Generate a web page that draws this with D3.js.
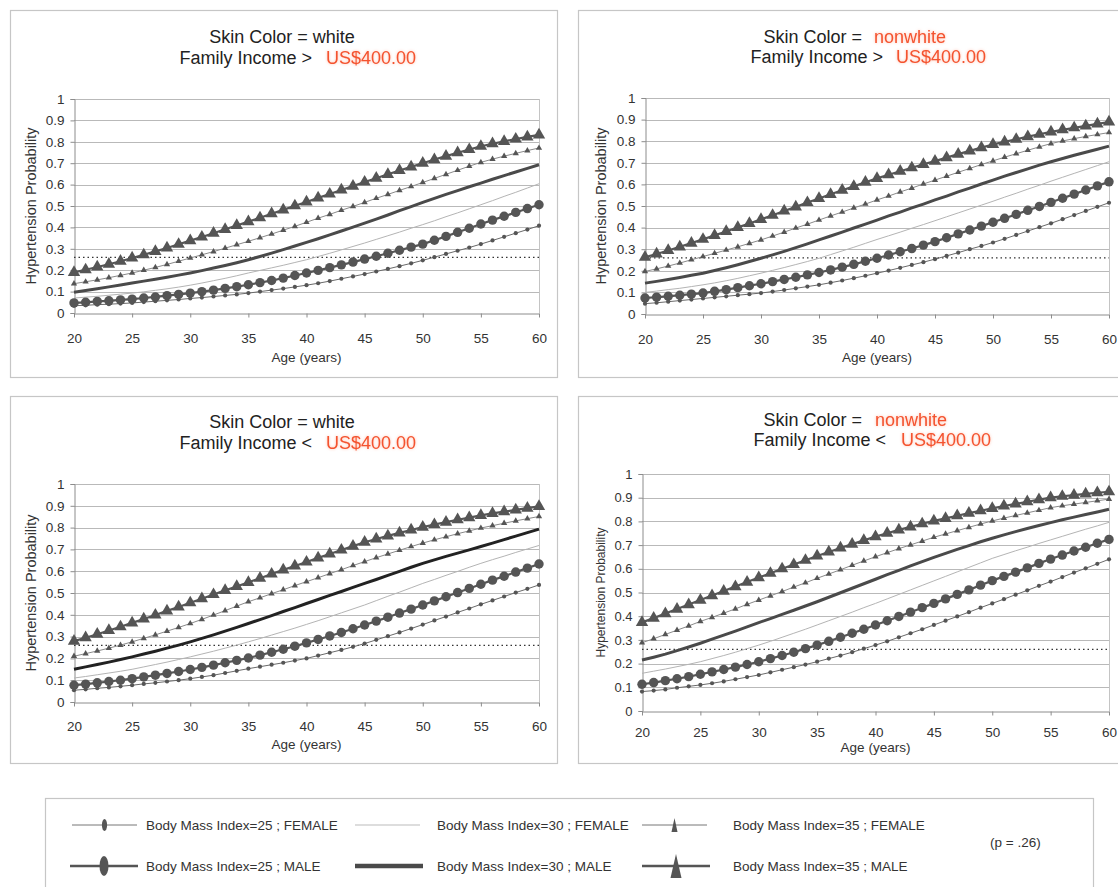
<!DOCTYPE html>
<html><head><meta charset="utf-8">
<script src="https://cdn.jsdelivr.net/npm/d3@7/dist/d3.min.js"></script>
<style>
body{margin:0;background:#fff;}
svg text{font-family:"Liberation Sans",Arial,Helvetica,sans-serif;}
.leg text{font-family:"Liberation Sans Narrow","Arial Narrow","Liberation Sans",sans-serif;}
</style>
</head><body>
<svg id="c" width="1118" height="887"></svg>
<script>
// ---------- DATA ----------
const ages = d3.range(20, 61);            // age in years, 20..60
const xTickValues = [20, 25, 30, 35, 40, 45, 50, 55, 60];
const yTickValues = [0, 0.1, 0.2, 0.3, 0.4, 0.5, 0.6, 0.7, 0.8, 0.9, 1];
const yTickLabels = ["0","0.1","0.2","0.3","0.4","0.5","0.6","0.7","0.8","0.9","1"];
const threshold = 0.26;
const pLabel = "(p = .26)";
const seriesKeys = ["f25", "m25", "f30", "m30", "f35", "m35"];
const seriesLabels = {
  f25: "Body Mass Index=25 ; FEMALE", f30: "Body Mass Index=30 ; FEMALE", f35: "Body Mass Index=35 ; FEMALE",
  m25: "Body Mass Index=25 ; MALE",   m30: "Body Mass Index=30 ; MALE",   m35: "Body Mass Index=35 ; MALE"
};

// Panel 1: white, income > US$400
const wh_m35 = [0.190,0.202,0.215,0.228,0.242,0.257,0.272,0.288,0.304,0.321,0.338,0.355,0.373,0.391,0.409,0.427,0.445,0.464,0.482,0.501,0.519,0.538,0.556,0.575,0.593,0.612,0.630,0.648,0.666,0.683,0.700,0.717,0.733,0.749,0.764,0.779,0.791,0.802,0.813,0.823,0.832];
const wh_f35 = [0.137,0.146,0.155,0.165,0.176,0.187,0.200,0.213,0.227,0.242,0.257,0.272,0.287,0.303,0.319,0.335,0.352,0.369,0.387,0.405,0.424,0.443,0.461,0.480,0.498,0.517,0.536,0.554,0.573,0.591,0.610,0.629,0.648,0.667,0.686,0.704,0.719,0.733,0.746,0.759,0.771];
const wh_m30 = [0.097,0.105,0.113,0.122,0.131,0.140,0.149,0.158,0.167,0.177,0.187,0.198,0.210,0.222,0.235,0.249,0.264,0.280,0.296,0.313,0.330,0.347,0.365,0.383,0.401,0.420,0.439,0.458,0.478,0.497,0.517,0.536,0.554,0.572,0.590,0.607,0.625,0.642,0.659,0.676,0.693];
const wh_f30 = [0.070,0.074,0.078,0.083,0.088,0.093,0.099,0.106,0.113,0.121,0.130,0.140,0.151,0.162,0.174,0.187,0.199,0.211,0.223,0.236,0.249,0.264,0.279,0.295,0.311,0.327,0.344,0.361,0.378,0.396,0.413,0.431,0.450,0.468,0.487,0.506,0.525,0.545,0.564,0.584,0.604];
const wh_m25 = [0.047,0.050,0.054,0.057,0.061,0.065,0.070,0.075,0.081,0.087,0.093,0.100,0.107,0.115,0.123,0.132,0.142,0.152,0.163,0.175,0.187,0.199,0.212,0.225,0.238,0.252,0.265,0.279,0.293,0.308,0.322,0.340,0.358,0.377,0.396,0.416,0.434,0.452,0.470,0.488,0.506];
const wh_f25 = [0.034,0.036,0.039,0.041,0.044,0.047,0.051,0.055,0.059,0.063,0.068,0.072,0.077,0.082,0.087,0.093,0.100,0.107,0.114,0.122,0.130,0.139,0.149,0.160,0.171,0.182,0.194,0.206,0.219,0.232,0.246,0.261,0.276,0.291,0.306,0.322,0.339,0.356,0.373,0.390,0.408];

// Panel 2: nonwhite, income > US$400
const nh_m35 = [0.263,0.278,0.294,0.311,0.328,0.346,0.364,0.382,0.401,0.419,0.438,0.457,0.477,0.496,0.516,0.535,0.554,0.573,0.591,0.610,0.628,0.645,0.661,0.677,0.693,0.708,0.724,0.740,0.755,0.770,0.785,0.797,0.809,0.821,0.832,0.843,0.853,0.862,0.871,0.880,0.889];
const nh_f35 = [0.197,0.209,0.222,0.236,0.251,0.266,0.281,0.296,0.311,0.327,0.343,0.361,0.379,0.398,0.416,0.435,0.454,0.472,0.491,0.509,0.528,0.546,0.565,0.583,0.602,0.620,0.638,0.656,0.674,0.692,0.709,0.726,0.742,0.758,0.774,0.789,0.801,0.812,0.822,0.831,0.840];
const nh_m30 = [0.143,0.151,0.160,0.169,0.179,0.189,0.201,0.214,0.228,0.243,0.258,0.274,0.290,0.307,0.325,0.343,0.361,0.379,0.398,0.416,0.435,0.454,0.472,0.491,0.509,0.528,0.546,0.565,0.583,0.602,0.620,0.638,0.655,0.672,0.689,0.705,0.720,0.735,0.749,0.763,0.777];
const nh_f30 = [0.100,0.106,0.113,0.119,0.127,0.135,0.144,0.154,0.165,0.177,0.189,0.202,0.215,0.229,0.243,0.258,0.275,0.292,0.309,0.327,0.345,0.362,0.379,0.397,0.414,0.432,0.450,0.468,0.486,0.504,0.522,0.541,0.559,0.578,0.596,0.615,0.633,0.651,0.669,0.687,0.705];
const nh_m25 = [0.074,0.078,0.082,0.087,0.092,0.097,0.105,0.113,0.122,0.131,0.140,0.150,0.160,0.170,0.181,0.192,0.204,0.217,0.230,0.244,0.258,0.273,0.288,0.303,0.319,0.335,0.353,0.371,0.389,0.407,0.425,0.443,0.461,0.480,0.498,0.517,0.536,0.555,0.574,0.593,0.612];
const nh_f25 = [0.048,0.052,0.057,0.062,0.067,0.072,0.077,0.082,0.087,0.092,0.097,0.104,0.111,0.119,0.127,0.135,0.145,0.155,0.166,0.177,0.189,0.201,0.214,0.227,0.240,0.254,0.269,0.284,0.300,0.315,0.331,0.348,0.366,0.384,0.402,0.420,0.439,0.458,0.477,0.496,0.515];

// Panel 3: white, income < US$400
const wl_m35 = [0.279,0.295,0.311,0.328,0.345,0.363,0.381,0.399,0.418,0.436,0.455,0.474,0.493,0.512,0.530,0.549,0.568,0.587,0.606,0.624,0.642,0.661,0.679,0.697,0.715,0.733,0.748,0.762,0.776,0.789,0.802,0.814,0.825,0.836,0.846,0.856,0.865,0.873,0.881,0.889,0.897];
const wl_f35 = [0.210,0.222,0.234,0.247,0.261,0.276,0.292,0.308,0.325,0.342,0.360,0.379,0.399,0.419,0.440,0.460,0.478,0.497,0.515,0.534,0.552,0.570,0.589,0.607,0.626,0.644,0.662,0.679,0.696,0.713,0.729,0.744,0.758,0.772,0.785,0.798,0.809,0.820,0.831,0.841,0.851];
const wl_m30 = [0.150,0.161,0.172,0.183,0.195,0.207,0.220,0.233,0.247,0.261,0.276,0.292,0.308,0.325,0.342,0.360,0.378,0.396,0.415,0.433,0.452,0.470,0.489,0.507,0.526,0.544,0.562,0.581,0.599,0.618,0.636,0.652,0.668,0.683,0.698,0.713,0.729,0.745,0.761,0.777,0.793];
const wl_f30 = [0.110,0.117,0.125,0.133,0.141,0.150,0.161,0.172,0.183,0.195,0.207,0.220,0.233,0.247,0.261,0.276,0.291,0.307,0.323,0.339,0.356,0.373,0.391,0.409,0.427,0.445,0.465,0.485,0.504,0.524,0.544,0.562,0.581,0.599,0.618,0.636,0.653,0.669,0.686,0.702,0.718];
const wl_m25 = [0.077,0.082,0.088,0.094,0.100,0.107,0.115,0.123,0.131,0.140,0.149,0.159,0.169,0.180,0.191,0.202,0.215,0.228,0.242,0.256,0.271,0.287,0.303,0.319,0.336,0.353,0.371,0.389,0.408,0.426,0.445,0.464,0.483,0.502,0.521,0.540,0.559,0.577,0.596,0.614,0.633];
const wl_f25 = [0.054,0.058,0.063,0.067,0.072,0.077,0.083,0.088,0.094,0.100,0.107,0.115,0.123,0.133,0.143,0.153,0.162,0.171,0.180,0.190,0.200,0.213,0.226,0.239,0.253,0.268,0.285,0.302,0.319,0.337,0.355,0.374,0.392,0.411,0.429,0.448,0.466,0.484,0.502,0.519,0.537];

// Panel 4: nonwhite, income < US$400
const nl_m35 = [0.374,0.392,0.411,0.430,0.449,0.468,0.487,0.506,0.525,0.544,0.563,0.581,0.600,0.618,0.636,0.654,0.671,0.688,0.704,0.720,0.736,0.750,0.764,0.777,0.790,0.802,0.813,0.824,0.835,0.845,0.855,0.865,0.874,0.883,0.892,0.900,0.906,0.911,0.916,0.921,0.925];
const nl_f35 = [0.288,0.305,0.323,0.341,0.359,0.378,0.395,0.413,0.431,0.450,0.468,0.486,0.504,0.523,0.541,0.560,0.578,0.596,0.615,0.633,0.651,0.668,0.685,0.701,0.717,0.733,0.747,0.761,0.775,0.789,0.802,0.814,0.825,0.836,0.847,0.858,0.866,0.873,0.880,0.887,0.894];
const nl_m30 = [0.215,0.227,0.240,0.255,0.270,0.286,0.303,0.320,0.337,0.355,0.373,0.390,0.408,0.425,0.443,0.461,0.480,0.499,0.518,0.537,0.556,0.575,0.593,0.612,0.630,0.648,0.665,0.682,0.698,0.714,0.729,0.743,0.757,0.770,0.783,0.795,0.807,0.818,0.829,0.840,0.851];
const nl_f30 = [0.159,0.168,0.177,0.187,0.197,0.208,0.221,0.234,0.248,0.263,0.278,0.294,0.311,0.328,0.345,0.363,0.381,0.399,0.417,0.436,0.454,0.473,0.492,0.511,0.530,0.549,0.568,0.587,0.606,0.625,0.644,0.660,0.676,0.691,0.707,0.722,0.737,0.752,0.767,0.781,0.796];
const nl_m25 = [0.113,0.120,0.128,0.136,0.145,0.155,0.165,0.175,0.185,0.196,0.208,0.221,0.234,0.248,0.263,0.278,0.294,0.311,0.328,0.345,0.363,0.381,0.399,0.417,0.436,0.454,0.473,0.492,0.511,0.531,0.550,0.568,0.586,0.604,0.623,0.641,0.658,0.675,0.691,0.708,0.724];
const nl_f25 = [0.082,0.086,0.091,0.098,0.104,0.110,0.117,0.125,0.134,0.143,0.152,0.163,0.174,0.185,0.196,0.208,0.221,0.234,0.248,0.263,0.278,0.294,0.311,0.328,0.345,0.363,0.381,0.399,0.417,0.436,0.454,0.472,0.491,0.509,0.528,0.546,0.565,0.584,0.602,0.621,0.640];

// ---------- STYLE / LAYOUT ----------
const style = {
  f25: {stroke:"#6a6a6a", width:1,   marker:"circle",   size:2.1},
  m25: {stroke:"#555",    width:2.2, marker:"circle",   size:4.7},
  f30: {stroke:"#b4b4b4", width:1,   marker:null},
  m30: {stroke:"#4a4a4a", width:3,   marker:null},
  f35: {stroke:"#8a8a8a", width:1,   marker:"triangle", size:17},
  m35: {stroke:"#555",    width:2.2, marker:"triangle", size:66}
};

const panels = [
  {data:{f25:wh_f25,m25:wh_m25,f30:wh_f30,m30:wh_m30,f35:wh_f35,m35:wh_m35},
   box:[10,10,547,367], x:[74,539], y:[313,99],
   t1:{center:282, y:43, black:"Skin Color = white"},
   t2:{split:312, gap:14, y:64, black:"Family Income >", red:"US$400.00"},
   xTickY:338, xTitleY:362, yTitleX:31, yFont:14.5},
  {data:{f25:nh_f25,m25:nh_m25,f30:nh_f30,m30:nh_m30,f35:nh_f35,m35:nh_m35},
   box:[578,10,545,367], x:[645,1109], y:[314,98],
   t1:{split:862, gap:12, y:43, black:"Skin Color =", red:"nonwhite"},
   t2:{split:883, gap:13, y:63, black:"Family Income >", red:"US$400.00"},
   xTickY:339, xTitleY:362, yTitleX:601, yFont:14.5},
  {data:{f25:wl_f25,m25:wl_m25,f30:wl_f30,m30:wl_m30,f35:wl_f35,m35:wl_m35},
   box:[10,396,547,367], x:[74,539], y:[702,484],
   t1:{center:282, y:428, black:"Skin Color = white"},
   t2:{split:312, gap:14, y:449, black:"Family Income <", red:"US$400.00"},
   xTickY:726, xTitleY:749, yTitleX:31, yFont:14.5, m30color:"#222"},
  {data:{f25:nl_f25,m25:nl_m25,f30:nl_f30,m30:nl_m30,f35:nl_f35,m35:nl_m35},
   box:[578,396,545,367], x:[642,1109], y:[711,474],
   t1:{split:862, gap:13, y:426, black:"Skin Color =", red:"nonwhite"},
   t2:{split:886, gap:15, y:446, black:"Family Income <", red:"US$400.00"},
   xTickY:732, xTitleY:752, yTitleX:601, yFont:12}
];

const RED = "#f4532f";
const svg = d3.select("#c");

function titleLine(g, t, size){
  if (t.center !== undefined){
    g.append("text").attr("x", t.center).attr("y", t.y).attr("text-anchor","middle")
      .attr("font-size", size).attr("fill","#222").text(t.black);
  } else {
    g.append("text").attr("x", t.split).attr("y", t.y).attr("text-anchor","end")
      .attr("font-size", size).attr("fill","#222").text(t.black);
    g.append("text").attr("x", t.split + t.gap).attr("y", t.y).attr("text-anchor","start")
      .attr("font-size", size).attr("fill",RED)
      .style("filter","drop-shadow(0 0 1.5px rgba(255,150,120,0.6))").text(t.red);
  }
}

panels.forEach(p => {
  const g = svg.append("g");
  g.append("rect").attr("x",p.box[0]+0.5).attr("y",p.box[1]+0.5).attr("width",p.box[2]).attr("height",p.box[3])
    .attr("fill","#fff").attr("stroke","#c6c6c6").attr("stroke-width",1.2);

  const x = d3.scaleLinear().domain([20,60]).range(p.x);
  const y = d3.scaleLinear().domain([0,1]).range(p.y);

  // grid lines
  g.append("g").selectAll("line").data(yTickValues.slice(1)).join("line")
    .attr("x1",p.x[0]).attr("x2",p.x[1])
    .attr("y1",d=>Math.round(y(d))+0.5).attr("y2",d=>Math.round(y(d))+0.5)
    .attr("stroke","#b9b9b9").attr("stroke-width",1);
  // right border of plot
  g.append("line").attr("x1",p.x[1]+0.5).attr("x2",p.x[1]+0.5).attr("y1",y(1)).attr("y2",y(0))
    .attr("stroke","#c4c4c4");

  // axes
  const yAxis = d3.axisLeft(y).tickValues(yTickValues).tickFormat((d,i)=>yTickLabels[i]).tickSize(4).tickPadding(6);
  const ya = g.append("g").attr("transform",`translate(${Math.round(p.x[0])+0.5},0)`).call(yAxis);
  ya.selectAll("text").attr("font-size", p.yFont===12 ? 13 : 13.5).attr("fill","#333")
    .style("font-family",'"Liberation Sans",Arial,sans-serif');
  ya.selectAll("line,path").attr("stroke","#8c8c8c");

  const xAxis = d3.axisBottom(x).tickValues(xTickValues).tickFormat(d3.format("d")).tickSize(4).tickSizeOuter(0).tickPadding(0);
  const xa = g.append("g").attr("transform",`translate(0,${Math.round(p.y[0])+0.5})`).call(xAxis);
  xa.selectAll("text").attr("font-size",13.5).attr("fill","#333").attr("dy",null).attr("y",null)
    .attr("transform",`translate(0,${p.xTickY - Math.round(p.y[0]) + 4.5})`)
    .style("font-family",'"Liberation Sans",Arial,sans-serif');
  xa.selectAll("line,path").attr("stroke","#8c8c8c");

  // axis titles
  g.append("text").attr("x",(p.x[0]+p.x[1])/2).attr("y",p.xTitleY).attr("text-anchor","middle")
    .attr("font-size",13.5).attr("fill","#333").text("Age (years)");
  g.append("text").attr("transform",`translate(${p.yTitleX},${(p.y[0]+p.y[1])/2}) rotate(-90)`)
    .attr("text-anchor","middle").attr("dy","0.35em").attr("font-size",p.yFont).attr("fill","#333")
    .text("Hypertension Probability");

  // titles
  titleLine(g, p.t1, 18);
  titleLine(g, p.t2, 18);

  // threshold dotted line
  g.append("line").attr("x1",x(20)).attr("x2",x(60)).attr("y1",y(threshold)).attr("y2",y(threshold))
    .attr("stroke","#333").attr("stroke-width",1.3).attr("stroke-dasharray","1.5,3");

  // series
  const line = d3.line().x((d,i)=>x(ages[i])).y(d=>y(d));
  const order = ["f30","f25","f35","m30","m25","m35"];
  order.forEach(k => {
    const s = style[k];
    const vals = p.data[k];
    g.append("path").attr("d", line(vals)).attr("fill","none")
      .attr("stroke", (k==="m30" && p.m30color) ? p.m30color : s.stroke)
      .attr("stroke-width", s.width).attr("stroke-linejoin","round");
    if (s.marker === "circle"){
      g.append("g").selectAll("circle").data(vals).join("circle")
        .attr("cx",(d,i)=>x(ages[i])).attr("cy",d=>y(d)).attr("r",s.size).attr("fill","#555");
    } else if (s.marker === "triangle"){
      const sym = d3.symbol(d3.symbolTriangle).size(s.size);
      g.append("g").selectAll("path").data(vals).join("path")
        .attr("transform",(d,i)=>`translate(${x(ages[i])},${y(d)})`).attr("d",sym).attr("fill","#555");
    }
  });
});

// ---------- LEGEND ----------
const leg = svg.append("g").attr("class","leg");
leg.append("rect").attr("x",45.5).attr("y",798.5).attr("width",1048).attr("height",100)
  .attr("fill","#fff").attr("stroke","#c6c6c6").attr("stroke-width",1.2);

const legendLayout = {
  f25:{x:72, y:825}, f30:{x:355, y:825}, f35:{x:642, y:825},
  m25:{x:70, y:866}, m30:{x:355, y:866}, m35:{x:642, y:866}
};
const legendTextX = {f25:146, m25:146, f30:437, m30:437, f35:733, m35:733};
seriesKeys.forEach(k => {
  const L = legendLayout[k], s = style[k];
  const male = k[0] === "m";
  const x1 = L.x + (male ? 68 : 65);
  const cx = (L.x + x1)/2;
  leg.append("line").attr("x1",L.x).attr("x2",x1).attr("y1",L.y).attr("y2",L.y)
    .attr("stroke", k==="m30" ? "#4a4a4a" : (male ? "#555" : (k==="f30" ? "#bbb" : "#777")))
    .attr("stroke-width", k==="m30" ? 4.5 : (male ? 2.5 : 1));
  if (s.marker === "circle"){
    leg.append("ellipse").attr("cx",cx).attr("cy",L.y).attr("rx", male?4.5:2.6).attr("ry", male?10:6).attr("fill","#555");
  } else if (s.marker === "triangle"){
    const w = male ? 11 : 6, h = male ? 24 : 14;
    leg.append("path").attr("d",`M${cx},${L.y-h/2}L${cx+w/2},${L.y+h/2}L${cx-w/2},${L.y+h/2}Z`).attr("fill","#555");
  }
  leg.append("text").attr("x",legendTextX[k]).attr("y",L.y).attr("dy","0.35em")
    .attr("font-size",13.5).attr("fill","#333").text(seriesLabels[k]);
});
leg.append("text").attr("x",990).attr("y",842).attr("dy","0.35em").attr("font-size",13.5).attr("fill","#333").text(pLabel);
</script>
</body></html>
